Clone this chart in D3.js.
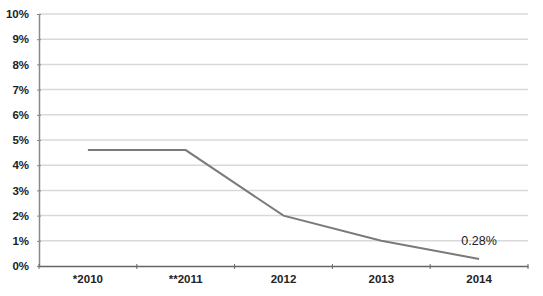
<!DOCTYPE html>
<html>
<meta charset="utf-8" />
<style>
  body { margin: 0; background: #fff; }
  text { font-family: "Liberation Sans", Arial, sans-serif; }
</style>
<svg width="543" height="296"></svg>
<script src="https://d3js.org/d3.v7.min.js"></script>
<script>
var years = ["*2010", "**2011", "2012", "2013", "2014"];
var rates = [4.6, 4.6, 2.0, 1.0, 0.28];
var yTicks = [0, 1, 2, 3, 4, 5, 6, 7, 8, 9, 10];

var svg = d3.select("svg"),
    margin = {top: 14, right: 15, bottom: 30, left: 39},
    width = +svg.attr("width") - margin.left - margin.right,
    height = +svg.attr("height") - margin.top - margin.bottom;

var g = svg.append("g")
    .attr("transform", "translate(" + margin.left + "," + margin.top + ")");

var x = d3.scaleBand().domain(years).range([0, width]);
var y = d3.scaleLinear().domain([0, 10]).range([height, 0]);

// gridlines
g.selectAll(".grid")
  .data(yTicks.slice(1))
  .enter().append("line")
    .attr("x1", 0).attr("x2", width)
    .attr("y1", function(d) { return y(d); })
    .attr("y2", function(d) { return y(d); })
    .attr("stroke", "#d9d9d9")
    .attr("stroke-width", 1.5);

// y axis
var yAxis = g.append("g")
    .call(d3.axisLeft(y).tickValues(yTicks).tickSize(4).tickSizeOuter(0)
      .tickFormat(function(d) { return d + "%"; }));
yAxis.select(".domain").attr("stroke", "#888").attr("stroke-width", 1.5);
yAxis.selectAll(".tick line").attr("stroke", "#888").attr("x1", -2).attr("x2", 2);
yAxis.selectAll("text")
    .attr("x", -10)
    .attr("font-size", 11.5)
    .attr("font-weight", "bold")
    .attr("fill", "#222");

// x axis
var xAxis = g.append("g")
    .attr("transform", "translate(0," + height + ")")
    .call(d3.axisBottom(x).tickSize(0).tickSizeOuter(0));
xAxis.select(".domain").attr("stroke", "#666").attr("stroke-width", 1.5);
xAxis.selectAll("text")
    .attr("y", 9)
    .attr("font-size", 11.5)
    .attr("font-weight", "bold")
    .attr("fill", "#222");

// category boundary ticks
g.selectAll(".btick")
  .data(d3.range(years.length + 1))
  .enter().append("line")
    .attr("x1", function(i) { return i * x.bandwidth(); })
    .attr("x2", function(i) { return i * x.bandwidth(); })
    .attr("y1", height - 2).attr("y2", height + 3)
    .attr("stroke", "#666");

// line
var line = d3.line()
    .x(function(d, i) { return x(years[i]) + x.bandwidth() / 2; })
    .y(function(d) { return y(d); });

g.append("path")
    .datum(rates)
    .attr("d", line)
    .attr("fill", "none")
    .attr("stroke", "#7a7a7a")
    .attr("stroke-width", 2);

// last value label
var last = rates.length - 1;
g.append("text")
    .attr("x", x(years[last]) + x.bandwidth() / 2)
    .attr("y", y(rates[last]) - 14)
    .attr("text-anchor", "middle")
    .attr("font-size", 12.5)
    .attr("fill", "#222")
    .text(rates[last].toFixed(2) + "%");
</script>
</html>
